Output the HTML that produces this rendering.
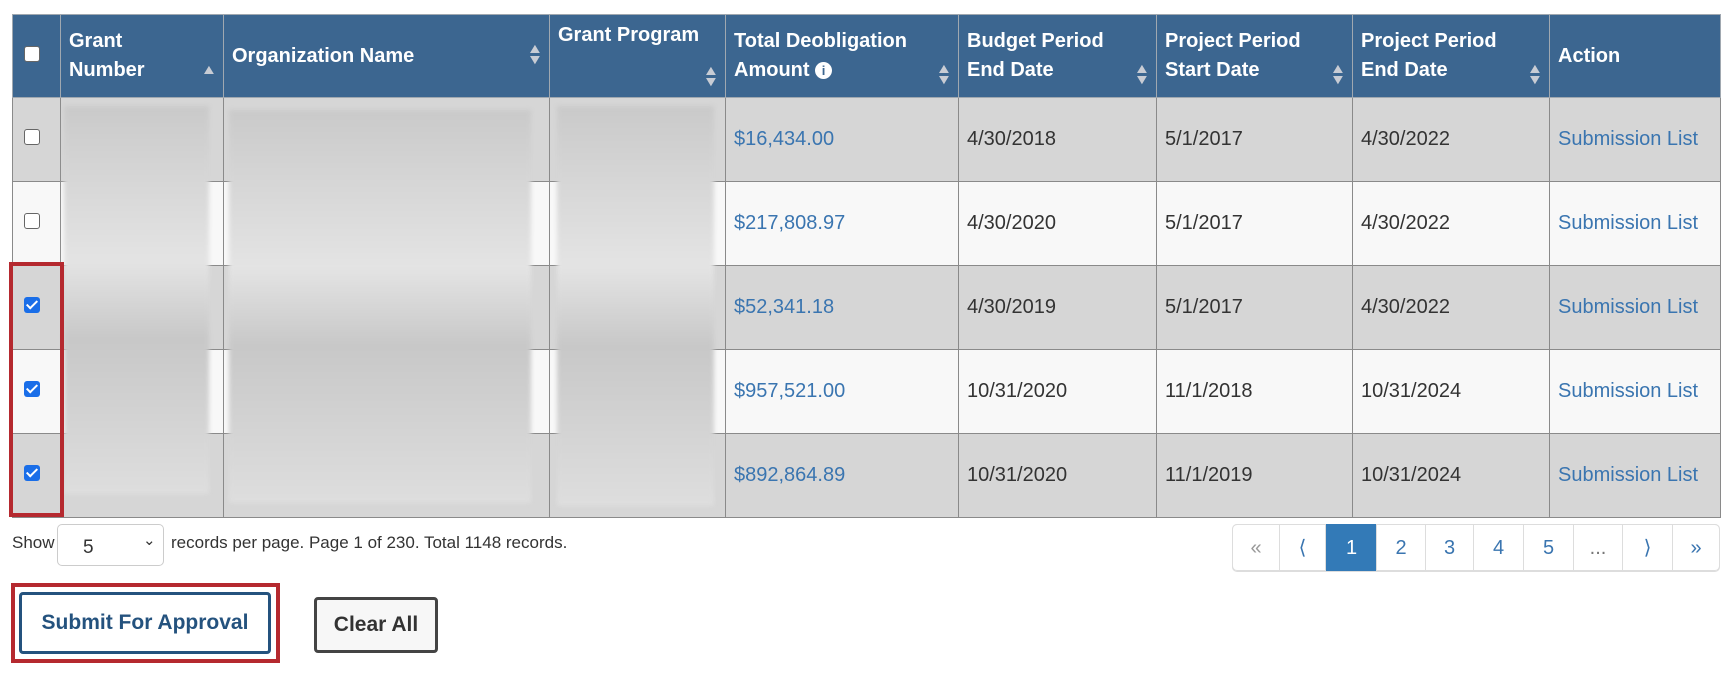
<!DOCTYPE html>
<html><head><style>
body{margin:0;width:1729px;height:675px;background:#fff;font-family:"Liberation Sans",Arial,sans-serif;position:relative;overflow:hidden}
.a{position:absolute}
table{position:absolute;left:12px;top:14px;border-collapse:collapse;table-layout:fixed;width:1708px}
td,th{border:1px solid #8a8a8a;font-size:20px;padding:0 0 0 8px;overflow:hidden;white-space:nowrap}
th{background:#3c6690;color:#fff;text-align:left;font-weight:bold;height:76px;vertical-align:middle;line-height:29px;position:relative;border-color:#a0a8b0}
tr.o td{background:#d6d6d6}tr.e td{background:#f8f8f8}
td{height:83px;color:#333}
.l{color:#3a75b0}
.cb{width:14px;height:14px;border:1px solid #666;border-radius:3px;background:#fff;display:inline-block;margin-left:3px}
.ck{width:16px;height:16px;border-radius:3px;background:#1a6ee8;display:inline-block;margin-left:3px;position:relative}
.ck:after{content:"";position:absolute;left:5px;top:1px;width:4px;height:9px;border:solid #fff;border-width:0 2px 2px 0;transform:rotate(45deg)}
.s{position:absolute;right:7px;font-size:14px;color:#c8ccd4;line-height:11px;transform:scaleX(1.2)}
.blur{position:absolute;background:linear-gradient(#cacaca,#e4e4e4 40%,#c8c8c8 60%,#dedede);filter:blur(2px)}
.pg{position:absolute;top:524px;height:47px;border:1px solid #ddd;color:#3a75b0;font-size:20px;text-align:center;line-height:47px;box-sizing:border-box}
</style></head><body>
<table>
<colgroup><col style="width:48px"><col style="width:163px"><col style="width:326px"><col style="width:176px"><col style="width:233px"><col style="width:198px"><col style="width:196px"><col style="width:197px"><col style="width:171px"></colgroup>
<tr><th><span class="cb"></span></th><th>Grant<br>Number<span class="s" style="bottom:22px">▲</span></th><th>Organization Name<span class="s" style="top:28px">▲<br>▼</span></th><th style="vertical-align:top;padding-top:6px">Grant Program<span class="s" style="bottom:10px">▲<br>▼</span></th><th>Total Deobligation<br>Amount <span style="display:inline-block;width:17px;height:17px;border-radius:50%;background:#fff;color:#3c6690;font-size:13px;line-height:17px;text-align:center;vertical-align:1px">i</span><span class="s" style="bottom:12px">▲<br>▼</span></th><th>Budget Period<br>End Date<span class="s" style="bottom:12px">▲<br>▼</span></th><th>Project Period<br>Start Date<span class="s" style="bottom:12px">▲<br>▼</span></th><th>Project Period<br>End Date<span class="s" style="bottom:12px">▲<br>▼</span></th><th>Action</th></tr>
<tr class="o"><td><span class="cb"></span></td><td></td><td></td><td></td><td class="l">$16,434.00</td><td>4/30/2018</td><td>5/1/2017</td><td>4/30/2022</td><td class="l">Submission List</td></tr>
<tr class="e"><td><span class="cb"></span></td><td></td><td></td><td></td><td class="l">$217,808.97</td><td>4/30/2020</td><td>5/1/2017</td><td>4/30/2022</td><td class="l">Submission List</td></tr>
<tr class="o"><td><span class="ck"></span></td><td></td><td></td><td></td><td class="l">$52,341.18</td><td>4/30/2019</td><td>5/1/2017</td><td>4/30/2022</td><td class="l">Submission List</td></tr>
<tr class="e"><td><span class="ck"></span></td><td></td><td></td><td></td><td class="l">$957,521.00</td><td>10/31/2020</td><td>11/1/2018</td><td>10/31/2024</td><td class="l">Submission List</td></tr>
<tr class="o"><td><span class="ck"></span></td><td></td><td></td><td></td><td class="l">$892,864.89</td><td>10/31/2020</td><td>11/1/2019</td><td>10/31/2024</td><td class="l">Submission List</td></tr>
</table>
<div class="blur" style="left:64px;top:106px;width:145px;height:388px"></div>
<div class="blur" style="left:229px;top:110px;width:302px;height:393px"></div>
<div class="blur" style="left:557px;top:106px;width:157px;height:400px"></div>
<div class="a" style="left:9px;top:262px;width:47px;height:247px;border:4px solid #b5292f"></div>
<div class="a" style="left:12px;top:533px;font-size:17px;color:#333">Show</div>
<div class="a" style="left:57px;top:524px;width:107px;height:42px;border:1px solid #ccc;border-radius:5px;box-sizing:border-box;font-size:19px;color:#333"><span class="a" style="left:25px;top:12px">5</span><span class="a" style="left:85px;top:6px;font-size:15px">⌄</span></div>
<div class="a" style="left:171px;top:533px;font-size:17px;color:#333">records per page. Page 1 of 230. Total 1148 records.</div>
<div class="a" style="left:1232px;top:524px;width:488px;height:48px;border:1px solid #ddd;border-radius:5px;box-sizing:border-box"></div>
<div class="pg" style="left:1232px;width:48px;color:#999;border-radius:5px 0 0 5px">«</div>
<div class="pg" style="left:1279px;width:47px">⟨</div>
<div class="pg" style="left:1326px;width:51px;background:#337ab7;color:#fff;border-color:#337ab7">1</div>
<div class="pg" style="left:1376px;width:50px">2</div>
<div class="pg" style="left:1425px;width:49px">3</div>
<div class="pg" style="left:1473px;width:51px">4</div>
<div class="pg" style="left:1523px;width:51px">5</div>
<div class="pg" style="left:1573px;width:50px;color:#777">...</div>
<div class="pg" style="left:1622px;width:51px">⟩</div>
<div class="pg" style="left:1672px;width:48px;border-radius:0 5px 5px 0">»</div>
<div class="a" style="left:11px;top:583px;width:261px;height:72px;border:4px solid #b5292f"></div>
<div class="a" style="left:19px;top:592px;width:252px;height:62px;border:3px solid #24527e;border-radius:4px;box-sizing:border-box;color:#24527e;font-size:21px;font-weight:bold;text-align:center;line-height:56px">Submit For Approval</div>
<div class="a" style="left:314px;top:597px;width:124px;height:56px;border:3px solid #444;border-radius:4px;box-sizing:border-box;background:#f7f7f7;color:#333;font-size:21px;font-weight:bold;text-align:center;line-height:50px">Clear All</div>
</body></html>
